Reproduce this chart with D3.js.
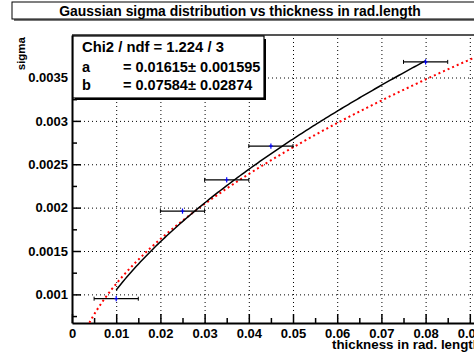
<!DOCTYPE html>
<meta charset="utf-8">
<style type="text/css">
body { margin: 0; background: #fff; font-family: 'Liberation Sans', Arial, sans-serif; }
svg text { font-weight: bold; fill: #000; font-family: 'Liberation Sans', Arial, sans-serif; }
.axis path { stroke: #000; stroke-width: 2px; }
.axis line { stroke: #000; stroke-width: 1.5px; }
.axis text { font-size: 13px; font-weight: bold; }
.grid line { stroke: #000; stroke-width: 1px; stroke-dasharray: 1,3; }
.grid path { display: none; }
</style>
<script src="https://cdnjs.cloudflare.com/ajax/libs/d3/7.8.5/d3.min.js"></script>
<body>
<div class="g-chart"></div>
<script type="text/javascript">

// measured points (thickness, sigma, half width in x, error in sigma)
var thickness = [0.01, 0.025, 0.035, 0.045, 0.08];
var sigmaVals = [0.00095, 0.00196, 0.00232, 0.00271, 0.00368];
var thickErr = [0.005, 0.005, 0.005, 0.005, 0.005];
var sigmaErr = [0.00003, 0.00003, 0.00003, 0.00003, 0.00003];

// fit results from the stat box
var fitA = 0.01615, fitB = 0.07584;
var statNames = ["Chi2 / ndf = 1.224 / 3", "a", "b"];
var statValues = ["", "= 0.01615\u00b1 0.001595", "= 0.07584\u00b1 0.02874"];
// highland reference curve (red)
var refA = 0.0136, refB = 0.038;

var xTicks = [0, 0.01, 0.02, 0.03, 0.04, 0.05, 0.06, 0.07, 0.08, 0.09];
var xTickLabels = ["0", "0.01", "0.02", "0.03", "0.04", "0.05", "0.06", "0.07", "0.08", "0.09"];
var xMinor = [0.005, 0.015, 0.025, 0.035, 0.045, 0.055, 0.065, 0.075, 0.085];
var yTicks = [0.001, 0.0015, 0.002, 0.0025, 0.003, 0.0035];
var yTickLabels = ["0.001", "0.0015", "0.002", "0.0025", "0.003", "0.0035"];
var yMinor = [0.00075, 0.00125, 0.00175, 0.00225, 0.00275, 0.00325, 0.00375];

var W = 474, H = 358;
var frame = {left: 72, top: 35, right: 476, bottom: 323};

var svg = d3.select(".g-chart").append("svg")
  .attr("width", W).attr("height", H);

var x = d3.scaleLinear().domain([0, 0.0914]).range([frame.left, frame.right]);
var y = d3.scaleLinear().domain([0.00067, 0.00399]).range([frame.bottom, frame.top]);

// shrink/grow a text so it spans a given width
function fitWidth(sel, w) {
  var n = sel.node(), fs = parseFloat(sel.style("font-size"));
  var len = n.getComputedTextLength();
  if (len > 0) sel.style("font-size", (fs * w / len).toFixed(2) + "px");
}

// title box
svg.append("rect").attr("x", 14).attr("y", 4).attr("width", 470).attr("height", 17).attr("fill", "#777");
svg.append("rect").attr("x", 12).attr("y", 2).attr("width", 470).attr("height", 17)
  .attr("fill", "#fff").attr("stroke", "#000").attr("stroke-width", 1);
var title = svg.append("text").attr("x", 240).attr("y", 15.5).attr("text-anchor", "middle")
  .style("font-size", "13px").text("Gaussian sigma distribution vs thickness in rad.length");
fitWidth(title, 362);

// grid
svg.append("g").attr("class", "grid")
  .attr("transform", "translate(0," + frame.bottom + ")")
  .call(d3.axisBottom(x).tickValues(xTicks.slice(1)).tickSize(-(frame.bottom - frame.top)).tickFormat(""));
svg.append("g").attr("class", "grid")
  .attr("transform", "translate(" + frame.left + ",0)")
  .call(d3.axisLeft(y).tickValues(yTicks).tickSize(-(frame.right - frame.left)).tickFormat(""));

// frame top
svg.append("line").attr("x1", frame.left).attr("x2", frame.right).attr("y1", frame.top).attr("y2", frame.top)
  .attr("stroke", "#555").attr("stroke-width", 2);

// axes
svg.append("g").attr("class", "axis")
  .attr("transform", "translate(0," + frame.bottom + ")")
  .call(d3.axisBottom(x).tickValues(xTicks).tickSizeInner(-9).tickSizeOuter(0).tickPadding(6)
    .tickFormat(function(d, i) { return xTickLabels[i]; }));
svg.append("g").attr("class", "axis")
  .attr("transform", "translate(0," + frame.bottom + ")")
  .call(d3.axisBottom(x).tickValues(xMinor).tickSizeInner(-5).tickSizeOuter(0).tickFormat(""))
  .select(".domain").remove();
svg.append("g").attr("class", "axis")
  .attr("transform", "translate(" + frame.left + ",0)")
  .call(d3.axisLeft(y).tickValues(yTicks).tickSizeInner(-9).tickSizeOuter(0).tickPadding(4)
    .tickFormat(function(d, i) { return yTickLabels[i]; }));
svg.append("g").attr("class", "axis")
  .attr("transform", "translate(" + frame.left + ",0)")
  .call(d3.axisLeft(y).tickValues(yMinor).tickSizeInner(-5).tickSizeOuter(0).tickFormat(""))
  .select(".domain").remove();

// axis titles
svg.append("text").attr("transform", "translate(25,37) rotate(-90)").attr("text-anchor", "end")
  .style("font-size", "11.5px").text("sigma");
var xTitle = svg.append("text").attr("x", 332).attr("y", 349)
  .style("font-size", "13px").text("thickness in rad. length");
fitWidth(xTitle, 149);

// curves
svg.append("clipPath").attr("id", "clip").append("rect")
  .attr("x", frame.left).attr("y", frame.top).attr("width", frame.right - frame.left).attr("height", frame.bottom - frame.top);

var refX = d3.range(0.002, 0.1, 0.0005);
var refLine = d3.line()
  .x(function(d) { return x(d); })
  .y(function(d) { return y(refA * Math.sqrt(d) * (1 + refB * Math.log(d))); });
svg.append("path").attr("clip-path", "url(#clip)").datum(refX).attr("d", refLine)
  .attr("fill", "none").attr("stroke", "#f00").attr("stroke-width", 2).attr("stroke-dasharray", "2,3");

var fitX = d3.range(0.01, 0.0801, 0.0005);
var fitLine = d3.line()
  .x(function(d) { return x(d); })
  .y(function(d) { return y(fitA * Math.sqrt(d) * (1 + fitB * Math.log(d))); });
svg.append("path").datum(fitX).attr("d", fitLine)
  .attr("fill", "none").attr("stroke", "#000").attr("stroke-width", 1.5);

// points with error bars
var pts = svg.append("g").selectAll("g").data(thickness).enter().append("g");
pts.append("line")
  .attr("x1", function(d, i) { return x(d - thickErr[i]); })
  .attr("x2", function(d, i) { return x(d + thickErr[i]); })
  .attr("y1", function(d, i) { return y(sigmaVals[i]); })
  .attr("y2", function(d, i) { return y(sigmaVals[i]); })
  .attr("stroke", "#000").attr("stroke-width", 1.2);
[-1, 1].forEach(function(s) {
  pts.append("line")
    .attr("x1", function(d, i) { return x(d + s * thickErr[i]); })
    .attr("x2", function(d, i) { return x(d + s * thickErr[i]); })
    .attr("y1", function(d, i) { return y(sigmaVals[i]) - 2; })
    .attr("y2", function(d, i) { return y(sigmaVals[i]) + 2; })
    .attr("stroke", "#000").attr("stroke-width", 1);
});
pts.append("line")
  .attr("x1", function(d) { return x(d); })
  .attr("x2", function(d) { return x(d); })
  .attr("y1", function(d, i) { return y(sigmaVals[i] + sigmaErr[i]); })
  .attr("y2", function(d, i) { return y(sigmaVals[i] - sigmaErr[i]); })
  .attr("stroke", "#00f").attr("stroke-width", 1.2);
pts.append("line")
  .attr("x1", function(d) { return x(d) - 2; })
  .attr("x2", function(d) { return x(d) + 2; })
  .attr("y1", function(d, i) { return y(sigmaVals[i]); })
  .attr("y2", function(d, i) { return y(sigmaVals[i]); })
  .attr("stroke", "#00f").attr("stroke-width", 1);

// stat box
svg.append("rect").attr("x", 75).attr("y", 39).attr("width", 191).attr("height", 61).attr("fill", "#000");
svg.append("rect").attr("x", 73).attr("y", 36).attr("width", 191).attr("height", 62)
  .attr("fill", "#fff").attr("stroke", "#000").attr("stroke-width", 1.2);
var st = svg.append("g").selectAll("g").data(statNames).enter().append("g")
  .attr("transform", function(d, i) { return "translate(0," + [52, 72, 90][i] + ")"; });
st.append("text").attr("x", 82).style("font-size", "14.5px").text(function(d) { return d; });
st.append("text").attr("x", 123).style("font-size", "14.5px").text(function(d, i) { return statValues[i]; });
fitWidth(st.select("text").filter(function(d, i) { return i === 0; }), 142);

</script>
</body>
